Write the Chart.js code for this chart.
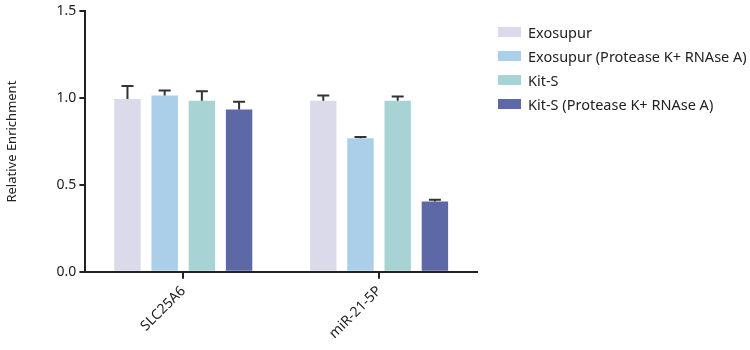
<!DOCTYPE html>
<html><head><meta charset="utf-8">
<script src="https://cdn.jsdelivr.net/npm/chart.js@4"></script>
<style>
html,body{margin:0;padding:0;background:#fff}
#wrap{position:relative;width:750px;height:350px}
#legend{position:absolute;left:498px;top:20px;font-family:"Noto Sans","Open Sans",sans-serif;font-size:14.5px;color:#222}
.item{display:flex;align-items:center;height:24px;white-space:nowrap}
.box{width:23px;height:10px;margin-right:7px;flex:none}
</style>
</head><body><div id="wrap"><canvas id="c"></canvas><div id="legend"></div></div>
<script>
const categories = ['SLC25A6', 'miR-21-5P'];
const seriesNames = ['Exosupur', 'Exosupur (Protease K+ RNAse A)', 'Kit-S', 'Kit-S (Protease K+ RNAse A)'];
const exosupur = [0.995, 0.985];
const exosupurPK = [1.015, 0.77];
const kitS = [0.985, 0.985];
const kitSPK = [0.935, 0.405];
const exosupurErr = [0.075, 0.03];
const exosupurPKErr = [0.03, 0.006];
const kitSErr = [0.055, 0.025];
const kitSPKErr = [0.045, 0.01];
const yTicks = [0, 0.5, 1.0, 1.5];

const colors = ['#dadaea', '#abcfe9', '#a7d3d5', '#5d68a7'];
const values = [exosupur, exosupurPK, kitS, kitSPK];
const errs = [exosupurErr, exosupurPKErr, kitSErr, kitSPKErr];

const legendEl = document.getElementById('legend');
seriesNames.forEach((n, i) => {
  const it = document.createElement('div');
  it.className = 'item';
  const b = document.createElement('span');
  b.className = 'box';
  b.style.background = colors[i];
  const t = document.createElement('span');
  t.textContent = n;
  it.appendChild(b); it.appendChild(t);
  legendEl.appendChild(it);
});

const errorBars = {
  id: 'errorBars',
  afterDatasetsDraw(chart) {
    const ctx = chart.ctx, ys = chart.scales.y;
    ctx.save();
    ctx.strokeStyle = '#333';
    ctx.lineWidth = 2;
    chart.data.datasets.forEach((ds, i) => {
      const meta = chart.getDatasetMeta(i);
      meta.data.forEach((bar, j) => {
        const top = ys.getPixelForValue(ds.data[j]);
        const e = ys.getPixelForValue(ds.data[j] + ds.err[j]);
        ctx.beginPath();
        ctx.moveTo(bar.x, top);
        ctx.lineTo(bar.x, e);
        ctx.moveTo(bar.x - 6, e);
        ctx.lineTo(bar.x + 6, e);
        ctx.stroke();
      });
    });
    ctx.restore();
  }
};

Chart.defaults.font.family = '"Noto Sans", "Open Sans", sans-serif';
Chart.defaults.color = '#222';

new Chart(document.getElementById('c'), {
  type: 'bar',
  data: {
    labels: categories,
    datasets: seriesNames.map((n, i) => ({
      label: n,
      data: values[i],
      err: errs[i],
      backgroundColor: colors[i],
      borderWidth: 0,
      categoryPercentage: 0.76,
      barPercentage: 0.71
    }))
  },
  options: {
    responsive: true,
    maintainAspectRatio: false,
    animation: false,
    layout: { padding: { left: 4, top: 5, right: 273, bottom: 4 } },
    plugins: {
      tooltip: { enabled: false },
      legend: { display: false }
    },
    scales: {
      x: {
        offset: true,
        grid: { display: true, offset: false, drawOnChartArea: false, drawTicks: true, tickLength: 7, color: '#222', lineWidth: 2 },
        border: { display: true, color: '#222', width: 2 },
        ticks: { minRotation: 45, maxRotation: 45, font: { size: 14 }, color: '#222', padding: 4 }
      },
      y: {
        min: 0, max: 1.5,
        afterBuildTicks(scale) { scale.ticks = yTicks.map(v => ({ value: v })); },
        grid: { display: true, drawOnChartArea: false, drawTicks: true, tickLength: 6, color: '#222', lineWidth: 2 },
        border: { display: true, color: '#222', width: 2 },
        ticks: { font: { size: 14 }, color: '#222', padding: 3, callback: v => Number(v).toFixed(1) },
        title: { display: true, text: 'Relative Enrichment', font: { size: 13 }, color: '#222', padding: { top: 0, bottom: 34 } }
      }
    }
  },
  plugins: [errorBars]
});
</script></body></html>
